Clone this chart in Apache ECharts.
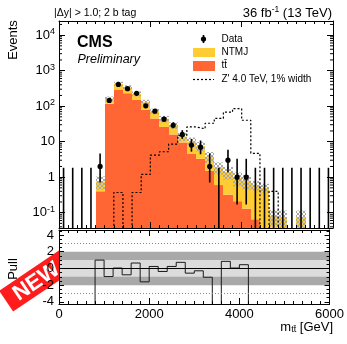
<!DOCTYPE html>
<html>
<head>
<meta charset="utf-8">
<title>m_tt spectrum with pull</title>
<script src="https://cdn.jsdelivr.net/npm/echarts@6.0.0/dist/echarts.min.js"></script>
<style>
  html, body { margin: 0; padding: 0; background: #fff; }
  #chart { width: 347px; height: 344px; }
</style>
</head>
<body>
<div id="chart"></div>
<script>
// 200 GeV bins
const binEdges = [0, 200, 400, 600, 800, 1000, 1200, 1400, 1600, 1800, 2000, 2200, 2400, 2600, 2800,
  3000, 3200, 3400, 3600, 3800, 4000, 4200, 4400, 4600, 4800, 5000, 5200, 5400, 5600, 5800, 6000]

const dataCounts = [0, 0, 0, 0, 2, 145, 410, 310, 230, 102, 72, 43, 29, 16, 8, 7, 2, 0, 3, 1, 1,
  0, 0, 0, 0, 0, 0, 0, 0, 0]
const dataErrDown = [0, 0, 0, 0, 1.29, 12, 20, 17.6, 15.2, 10.1, 8.5, 6.5, 5.3, 3.96, 2.77, 2.58, 1.29, 0, 1.63, 0.83, 0.83,
  0, 0, 0, 0, 0, 0, 0, 0, 0]
const dataErrUp = [1.84, 1.84, 1.84, 1.84, 2.64, 13, 21, 18.6, 16.2, 11.1, 9.5, 7.6, 6.4, 5.1, 3.96, 3.78, 2.64, 1.84, 2.92, 2.3, 2.3,
  1.84, 1.84, 1.84, 1.84, 1.84, 1.84, 1.84, 1.84, 1.84]

const ttbar = [0, 0, 0, 0, 0.4, 117, 294, 231, 151, 79, 45, 26, 16, 9.5, 4.5, 3.3, 1.5, 0.6, 0.32, 0.21, 0.13,
  0.065, 0, 0, 0, 0, 0, 0, 0, 0]
const ntmj = [0, 0, 0, 0, 0.35, 45, 131, 107, 72, 50, 27, 18, 13, 4.5, 5.5, 4.2, 2.3, 1.3, 1.08, 0.74, 0.67,
  0.54, 0.5, 0.08, 0.075, 0, 0.075, 0, 0, 0]
const bkgUnc = [0, 0, 0, 0, 0.3, 25, 60, 50, 35, 22, 13, 9, 6, 3.5, 3, 2.2, 1.3, 0.7, 0.55, 0.4, 0.35,
  0.18, 0.15, 0.04, 0.04, 0, 0.04, 0, 0, 0]

const zprime = [0, 0, 0, 0, 0, 0, 0.37, 0, 0.37, 1.2, 4.2, 5.2, 8.5, 15, 26, 23, 33, 45, 68, 85, 40,
  4.7, 0, 0.4, 0, 0, 0, 0, 0, 0]

// -5 = off the bottom of the pull frame
const pullValues = [null, null, null, -5, 1.0, -0.97, 0.05, -0.76, 0.65, -1.6, 0.24, -0.36, 0.24, 0.73, -0.56,
  -0.28, -1.05, -5, 0.85, 0.05, 0.45, -5, null, null, null, null, null, null, null, null]
const pullBands = [2, 1]
const pullDotted = [3, -3]

const FONT = 'Liberation Sans, Arial, Helvetica, sans-serif'
const C_TT = '#ff6633'
const C_NTMJ = '#ffcc33'
const Y_MIN = 0.037
const Y_MAX = 25000

const chart = echarts.init(document.getElementById('chart'))

// grey cross hatch for the background uncertainty
const hatch = document.createElement('canvas')
hatch.width = 4
hatch.height = 4
const hc = hatch.getContext('2d')
hc.strokeStyle = '#a8a8a8'
hc.lineWidth = 1
hc.beginPath()
hc.moveTo(0, 4); hc.lineTo(4, 0)
hc.moveTo(0, 0); hc.lineTo(4, 4)
hc.stroke()

const offLog = (v) => (v > 0 ? v : Y_MIN * 0.01)

const binRows = (low, high) =>
  binEdges.slice(0, -1).map((lo, i) => [lo, binEdges[i + 1], low[i], high[i]])

const stackTop = ttbar.map((v, i) => v + ntmj[i])
const hatchLow = stackTop.map((v, i) => v - bkgUnc[i])
const hatchHigh = stackTop.map((v, i) => v + bkgUnc[i])

const rectRender = (fill) => (params, api) => {
  const lo = api.value(0)
  const hi = api.value(1)
  const b = api.value(2)
  const t = api.value(3)
  if (!(t > b) || t <= Y_MIN) return null
  const p0 = api.coord([lo, t])
  const p1 = api.coord([hi, Math.max(b, Y_MIN)])
  const x0 = Math.round(p0[0])
  const x1 = Math.round(p1[0])
  const shape = echarts.graphic.clipRectByRect(
    { x: x0, y: p0[1], width: x1 - x0, height: p1[1] - p0[1] },
    params.coordSys
  )
  if (!shape) return null
  return { type: 'rect', shape, style: { fill } }
}

const pointRows = dataCounts.map((n, i) => [
  (binEdges[i] + binEdges[i + 1]) / 2, n, n - dataErrDown[i], n + dataErrUp[i]
])

const renderPoint = (params, api) => {
  const c = api.value(0)
  const n = api.value(1)
  const lo = api.value(2)
  const hi = api.value(3)
  const top = api.coord([c, hi])
  const bot = api.coord([c, lo > Y_MIN ? lo : Y_MIN])
  const children = [{
    type: 'line',
    shape: { x1: top[0], y1: top[1], x2: bot[0], y2: bot[1] },
    style: { stroke: '#000', lineWidth: 1.6 }
  }]
  if (n > 0) {
    const p = api.coord([c, n])
    children.push({ type: 'circle', shape: { cx: p[0], cy: p[1], r: 2.6 }, style: { fill: '#000' } })
  }
  return { type: 'group', children }
}

// ROOT style minor ticks (2..9 per decade) on both sides of the log frame
const renderLogTicks = (params, api) => {
  const cs = params.coordSys
  const children = []
  for (let d = -2; d <= 4; d++) {
    for (let k = 2; k <= 9; k++) {
      const v = k * Math.pow(10, d)
      if (v <= Y_MIN || v >= Y_MAX) continue
      const y = api.coord([0, v])[1]
      children.push({ type: 'line', shape: { x1: cs.x, y1: y, x2: cs.x + 3, y2: y }, style: { stroke: '#000', lineWidth: 1 } })
      children.push({ type: 'line', shape: { x1: cs.x + cs.width - 3, y1: y, x2: cs.x + cs.width, y2: y }, style: { stroke: '#000', lineWidth: 1 } })
    }
  }
  return { type: 'group', children }
}

const stepPoints = (values) => {
  const pts = binEdges.slice(0, -1).map((e, i) => [e, values[i]])
  pts.push([binEdges[binEdges.length - 1], values[values.length - 1]])
  return pts
}

const pullPoints = () => {
  const pts = []
  let last = null
  pullValues.forEach((v, i) => {
    if (v === null) return
    pts.push([binEdges[i], v])
    last = i
  })
  pts.push([binEdges[last + 1], pullValues[last]])
  return pts
}

const xCommon = (gridIndex, position) => ({
  type: 'value',
  gridIndex,
  position,
  min: 0,
  max: 6000,
  interval: 2000,
  z: 10,
  axisLine: { show: true, onZero: false, lineStyle: { color: '#000', width: 1 } },
  axisTick: { show: true, inside: true, length: 6, lineStyle: { color: '#000' } },
  minorTick: { show: true, splitNumber: 10, length: 3, lineStyle: { color: '#000' } },
  axisLabel: { show: false },
  splitLine: { show: false }
})

const supFormatter = (v) => {
  const e = Math.round(Math.log10(v))
  if (e === 0) return '1'
  if (e === 1) return '10'
  return '10{sup|' + e + '}'
}

const option = {
  animation: false,
  backgroundColor: '#fff',
  textStyle: { fontFamily: FONT },
  grid: [
    { left: 59, width: 274, top: 21, height: 207 },
    { left: 59, width: 274, top: 230, height: 74 }
  ],
  xAxis: [
    xCommon(0, 'bottom'),
    xCommon(0, 'top'),
    {
      ...xCommon(1, 'bottom'),
      axisLabel: { show: true, fontSize: 13, color: '#000', margin: 4, fontFamily: FONT, formatter: (v) => String(v) }
    },
    xCommon(1, 'top')
  ],
  yAxis: [
    {
      type: 'log',
      logBase: 10,
      gridIndex: 0,
      position: 'left',
      min: Y_MIN,
      max: Y_MAX,
      z: 10,
      axisLine: { show: true, onZero: false, lineStyle: { color: '#000' } },
      axisTick: { show: true, inside: true, length: 6, lineStyle: { color: '#000' } },
      axisLabel: {
        showMinLabel: false,
        showMaxLabel: false,
        fontSize: 13,
        color: '#000',
        margin: 4,
        fontFamily: FONT,
        formatter: supFormatter,
        rich: { sup: { fontSize: 9, padding: [0, 0, 7, 0], fontFamily: FONT } }
      },
      splitLine: { show: false }
    },
    {
      type: 'log',
      logBase: 10,
      gridIndex: 0,
      position: 'right',
      min: Y_MIN,
      max: Y_MAX,
      z: 10,
      axisLine: { show: true, onZero: false, lineStyle: { color: '#000' } },
      axisTick: { show: true, inside: true, length: 6, lineStyle: { color: '#000' } },
      axisLabel: { show: false },
      splitLine: { show: false }
    },
    {
      type: 'value',
      gridIndex: 1,
      position: 'left',
      min: -4.25,
      max: 4.6,
      splitNumber: 4,
      z: 10,
      axisLine: { show: true, onZero: false, lineStyle: { color: '#000' } },
      axisTick: { show: true, inside: true, length: 5, lineStyle: { color: '#000' } },
      minorTick: { show: true, splitNumber: 4, length: 3, lineStyle: { color: '#000' } },
      axisLabel: { showMinLabel: false, showMaxLabel: false, fontSize: 13, color: '#000', margin: 5, fontFamily: FONT },
      splitLine: { show: false }
    },
    {
      type: 'value',
      gridIndex: 1,
      position: 'right',
      min: -4.25,
      max: 4.6,
      splitNumber: 4,
      z: 10,
      axisLine: { show: true, onZero: false, lineStyle: { color: '#000' } },
      axisTick: { show: true, inside: true, length: 5, lineStyle: { color: '#000' } },
      minorTick: { show: true, splitNumber: 4, length: 3, lineStyle: { color: '#000' } },
      axisLabel: { show: false },
      splitLine: { show: false }
    }
  ],
  series: [
    {
      name: 'tt',
      type: 'custom',
      xAxisIndex: 0,
      yAxisIndex: 0,
      encode: { x: [0, 1], y: [2, 3] },
      data: binRows(ttbar.map(() => 0), ttbar),
      renderItem: rectRender(C_TT),
      silent: true,
      z: 2
    },
    {
      name: 'NTMJ',
      type: 'custom',
      xAxisIndex: 0,
      yAxisIndex: 0,
      encode: { x: [0, 1], y: [2, 3] },
      data: binRows(ttbar, stackTop),
      renderItem: rectRender(C_NTMJ),
      silent: true,
      z: 2
    },
    {
      name: 'unc',
      type: 'custom',
      xAxisIndex: 0,
      yAxisIndex: 0,
      encode: { x: [0, 1], y: [2, 3] },
      data: binRows(hatchLow, hatchHigh),
      renderItem: rectRender({ image: hatch, repeat: 'repeat' }),
      silent: true,
      z: 3
    },
    {
      name: "Z'",
      type: 'line',
      xAxisIndex: 0,
      yAxisIndex: 0,
      step: 'end',
      symbol: 'none',
      data: stepPoints(zprime.map(offLog)),
      lineStyle: { color: '#000', width: 1.2, type: [2, 2] },
      silent: true,
      z: 4
    },
    {
      name: 'Data',
      type: 'custom',
      xAxisIndex: 0,
      yAxisIndex: 0,
      encode: { x: 0, y: [2, 3] },
      data: pointRows,
      renderItem: renderPoint,
      silent: true,
      z: 5
    },
    {
      name: 'logTicks',
      type: 'custom',
      xAxisIndex: 0,
      yAxisIndex: 0,
      data: [[0, 1]],
      renderItem: renderLogTicks,
      silent: true,
      z: 11
    },
    {
      name: 'pull',
      type: 'line',
      xAxisIndex: 2,
      yAxisIndex: 2,
      step: 'end',
      symbol: 'none',
      data: pullPoints(),
      lineStyle: { color: '#1a1a1a', width: 1 },
      silent: true,
      z: 4,
      markArea: {
        silent: true,
        data: pullBands.map((b, i) => [
          { yAxis: -b, itemStyle: { color: i === 0 ? '#a9a9a9' : '#dcdcdc' } },
          { yAxis: b }
        ])
      },
      markLine: {
        silent: true,
        symbol: 'none',
        label: { show: false },
        data: [
          ...pullDotted.map((v) => ({ yAxis: v, lineStyle: { color: '#888', type: [1, 2], width: 1 } })),
          { yAxis: 0, lineStyle: { color: '#000', type: 'solid', width: 1 } }
        ]
      }
    }
  ],
  graphic: [
    { type: 'text', x: 54, y: 13, style: { text: '|\u0394y| > 1.0; 2 b tag', fontSize: 10.5, fontFamily: FONT, fill: '#000', textVerticalAlign: 'middle' } },
    {
      type: 'text', x: 332, y: 13,
      style: {
        text: '36 fb{sup|-1} (13 TeV)', fontSize: 13, fontFamily: FONT, fill: '#000',
        textAlign: 'right', textVerticalAlign: 'middle',
        rich: { sup: { fontSize: 8.5, fontFamily: FONT, padding: [0, 0, 7, 0] } }
      }
    },
    { type: 'text', x: 77, y: 43, z: 20, style: { text: 'CMS', fontSize: 16, fontWeight: 'bold', fontFamily: FONT, fill: '#000', textVerticalAlign: 'middle' } },
    { type: 'text', x: 77.5, y: 60, z: 20, style: { text: 'Preliminary', fontSize: 12.5, fontStyle: 'italic', fontFamily: FONT, fill: '#000', textVerticalAlign: 'middle' } },
    // legend
    { type: 'line', shape: { x1: 203.5, y1: 35, x2: 203.5, y2: 43 }, style: { stroke: '#000', lineWidth: 1.6 } },
    { type: 'circle', shape: { cx: 203.5, cy: 39, r: 2.6 }, style: { fill: '#000' } },
    { type: 'rect', shape: { x: 193, y: 48, width: 22, height: 9 }, style: { fill: C_NTMJ } },
    { type: 'rect', shape: { x: 193, y: 61, width: 22, height: 10 }, style: { fill: C_TT } },
    { type: 'line', shape: { x1: 193, y1: 79.5, x2: 214, y2: 79.5 }, style: { stroke: '#000', lineWidth: 1.2, lineDash: [2, 2] } },
    { type: 'text', x: 221.5, y: 39, style: { text: 'Data', fontSize: 10, fontFamily: FONT, fill: '#000', textVerticalAlign: 'middle' } },
    { type: 'text', x: 221.5, y: 52.5, style: { text: 'NTMJ', fontSize: 10, fontFamily: FONT, fill: '#000', textVerticalAlign: 'middle' } },
    { type: 'text', x: 221.5, y: 65.5, style: { text: 'tt\u0304', fontSize: 10, fontFamily: FONT, fill: '#000', textVerticalAlign: 'middle' } },
    { type: 'text', x: 221.5, y: 79.5, style: { text: "Z' 4.0 TeV, 1% width", fontSize: 10, fontFamily: FONT, fill: '#000', textVerticalAlign: 'middle' } },
    // axis titles
    { type: 'text', x: 13, y: 40, rotation: Math.PI / 2, style: { text: 'Events', fontSize: 13, fontFamily: FONT, fill: '#000', textAlign: 'center', textVerticalAlign: 'middle' } },
    { type: 'text', x: 13, y: 269, rotation: Math.PI / 2, style: { text: 'Pull', fontSize: 13, fontFamily: FONT, fill: '#000', textAlign: 'center', textVerticalAlign: 'middle' } },
    {
      type: 'text', x: 333, y: 327,
      style: {
        text: 'm{sub|tt\u0304} [GeV]', fontSize: 13, fontFamily: FONT, fill: '#000',
        textAlign: 'right', textVerticalAlign: 'middle',
        rich: { sub: { fontSize: 9, fontFamily: FONT, padding: [6, 0, 0, 0] } }
      }
    },
    // NEW banner
    {
      type: 'group', x: 36, y: 281, rotation: 0.593, z: 50,
      children: [
        { type: 'rect', shape: { x: -36, y: -12.5, width: 72, height: 25 }, style: { fill: '#ff1c1c' } },
        { type: 'text', x: 0, y: 1, style: { text: 'NEW', fontSize: 22, fontWeight: 'bold', fontFamily: FONT, fill: '#fff', textAlign: 'center', textVerticalAlign: 'middle' } }
      ]
    }
  ]
}

chart.setOption(option)
</script>
</body>
</html>
